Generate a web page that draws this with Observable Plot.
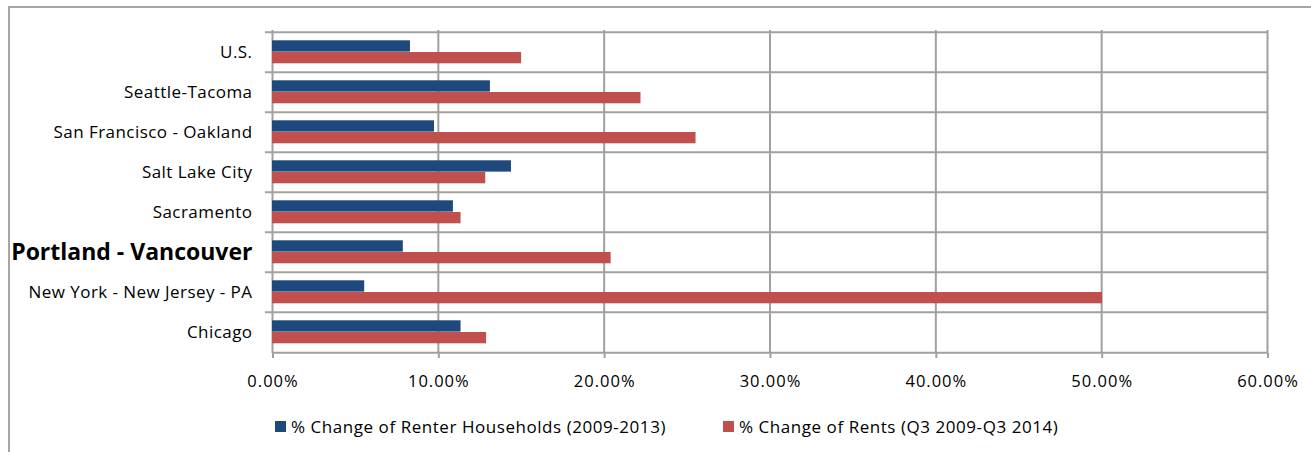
<!DOCTYPE html>
<html><head><meta charset="utf-8">
<script src="https://cdn.jsdelivr.net/npm/d3@7"></script>
<script src="https://cdn.jsdelivr.net/npm/@observablehq/plot@0.6"></script>
<style>
html,body{margin:0;padding:0;background:#fff}
body{width:1311px;height:452px;overflow:hidden;position:relative;font-family:"Open Sans",sans-serif;color:#000}
#frame{position:absolute;left:8px;top:6px;width:1310px;height:460px;border-top:2px solid #a6a6a6;border-left:2px solid #a6a6a6;box-sizing:border-box}
#chart{position:absolute;left:0;top:0}
#chart g[aria-label="x-axis tick label"] text{letter-spacing:1px}
#chart g[aria-label="text"] text{letter-spacing:0.45px}
#chart g[aria-label="text"][font-weight="bold"] text{letter-spacing:0}
.leg{position:absolute;top:415px;display:flex;align-items:center;font-size:17px;letter-spacing:0.55px;white-space:nowrap}
.sw{width:11px;height:11px;margin-right:5px;display:inline-block}
</style>
</head><body>
<div id="frame"></div>
<div id="chart"></div>
<div id="legend"></div>
<script>
const categories = ["U.S.","Seattle-Tacoma","San Francisco - Oakland","Salt Lake City","Sacramento","Portland - Vancouver","New York - New Jersey - PA","Chicago"];
const renterHouseholds = [8.32,13.14,9.77,14.41,10.91,7.89,5.56,11.37];
const rents = [15.02,22.22,25.54,12.86,11.37,20.42,50.05,12.91];
const xTicks = [0,10,20,30,40,50,60];
const seriesNames = ["% Change of Renter Households (2009-2013)","% Change of Rents (Q3 2009-Q3 2014)"];
const seriesColors = ["#1F497D","#C0504D"];
const highlight = "Portland - Vancouver";

const rows = categories.map((c,i)=>({category:c, households:renterHouseholds[i], rents:rents[i]}));
const H = 400, mT = 30, mB = 47;
const bw = (H - mT - mB) / categories.length;
const grid = "#a0a0a0";
const fmt = d => d.toFixed(2) + "%";

const plot = Plot.plot({
  width: 1311, height: H,
  marginTop: mT, marginBottom: mB, marginLeft: 272, marginRight: 44,
  style: {fontFamily: '"Open Sans", sans-serif', background: "transparent"},
  x: {domain: [0, 60], axis: null},
  y: {domain: categories, type: "band", padding: 0, axis: null},
  marks: [
    Plot.ruleX(xTicks, {stroke: grid, strokeWidth: 2}),
    Plot.ruleY(categories, {y: d => d, x1: -0.42, x2: 60, dy: -bw/2, stroke: grid, strokeWidth: 2}),
    Plot.ruleY(categories.slice(-1), {y: d => d, x1: 0, x2: 60, dy: bw/2, stroke: grid, strokeWidth: 2}),
    Plot.barX(rows, {y: "category", x: "households", fill: seriesColors[0], insetTop: 8.3, insetBottom: bw - 20}),
    Plot.barX(rows, {y: "category", x: "rents", fill: seriesColors[1], insetTop: 20, insetBottom: 8.7}),
    Plot.axisX(xTicks, {tickSize: 5, tickPadding: 17, tickFormat: fmt, fontSize: 16.5, dx: 0.5, stroke: grid, strokeWidth: 2, label: null}),
    Plot.text(rows.filter(d => d.category !== highlight), {y: "category", text: "category", frameAnchor: "left", dx: -20, textAnchor: "end", fontSize: 17}),
    Plot.text(rows.filter(d => d.category === highlight), {y: "category", text: "category", frameAnchor: "left", dx: -20, textAnchor: "end", fontSize: 23, fontWeight: "bold"})
  ]
});
document.getElementById("chart").appendChild(plot);

const legendLefts = [275, 723];
const legend = document.getElementById("legend");
seriesNames.forEach((name, i) => {
  const item = document.createElement("div");
  item.className = "leg";
  item.style.left = legendLefts[i] + "px";
  const sw = document.createElement("span");
  sw.className = "sw";
  sw.style.background = seriesColors[i];
  const t = document.createElement("span");
  t.textContent = name;
  item.appendChild(sw); item.appendChild(t);
  legend.appendChild(item);
});
</script>
</body></html>
